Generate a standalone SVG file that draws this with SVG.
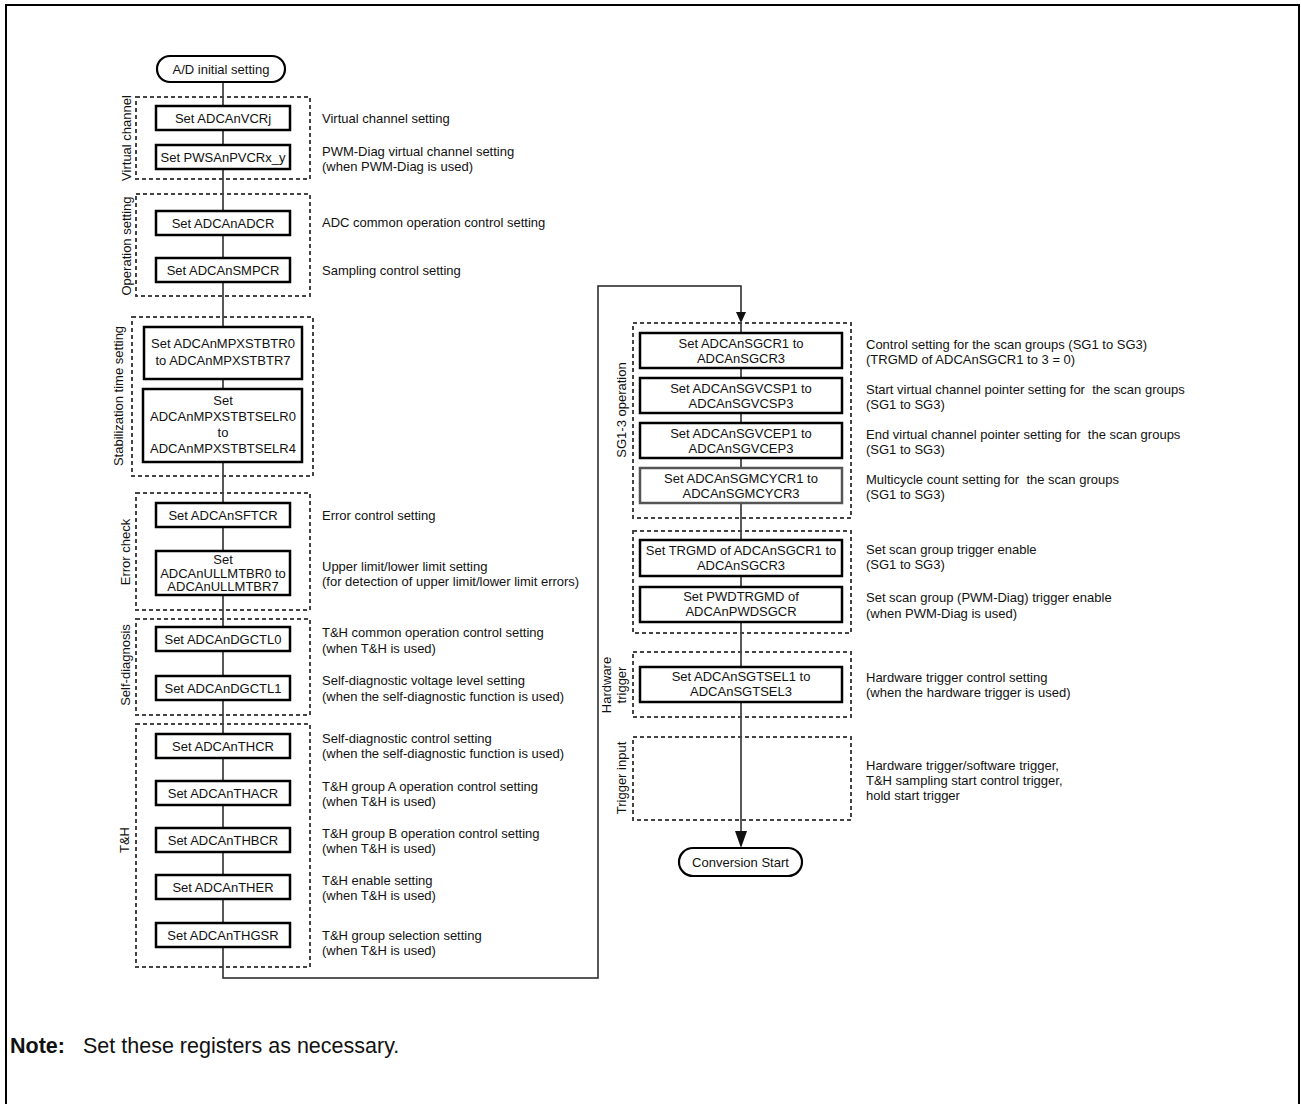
<svg xmlns="http://www.w3.org/2000/svg" width="1301" height="1104" viewBox="0 0 1301 1104">
<defs>
<style>
text{font-family:"Liberation Sans",Arial,sans-serif;font-size:13px;fill:#111}
.c{text-anchor:middle}
.lbl{text-anchor:middle;dominant-baseline:central}
.box{fill:#fff;stroke:#000;stroke-width:2.5}
.gbox{fill:#fff;stroke:#555;stroke-width:2.5}
.grp{fill:none;stroke:#444;stroke-width:2;stroke-dasharray:4 3}
.term{fill:#fff;stroke:#000;stroke-width:2.2}
.ln{fill:none;stroke:#222;stroke-width:1.5}
</style>
<marker id="ah1" markerUnits="userSpaceOnUse" markerWidth="10" markerHeight="12" refX="5" refY="11" orient="auto-start-reverse" viewBox="0 0 10 12">
<path d="M0,0 L10,0 L5,11 Z" fill="#111" transform="rotate(-90 5 6) translate(0,0)"/>
</marker>
</defs>
<path d="M6,1104 V5 H1299 V1104" fill="none" stroke="#000" stroke-width="2"/>

<g id="connectors">
<path class="ln" d="M223,82 V978 H598 V286 H741 V312"/>
<path d="M736,312 L746,312 L741,323 Z" fill="#111"/>
<path class="ln" d="M741,323 V832"/>
<path d="M735,831 L747,831 L741,848 Z" fill="#111"/>
</g>

<g id="groups">
<rect class="grp" x="136" y="97" width="174" height="82"/>
<rect class="grp" x="136" y="194" width="174" height="102"/>
<rect class="grp" x="132" y="317" width="181" height="159"/>
<rect class="grp" x="136" y="493" width="174" height="117"/>
<rect class="grp" x="136" y="619" width="174" height="96"/>
<rect class="grp" x="136" y="724" width="174" height="243"/>
<rect class="grp" x="633" y="323" width="218" height="195"/>
<rect class="grp" x="633" y="531" width="218" height="102"/>
<rect class="grp" x="633" y="652" width="218" height="65"/>
<rect class="grp" x="633" y="737" width="218" height="83"/>
<text class="lbl" transform="translate(126,138) rotate(-90)">Virtual channel</text>
<text class="lbl" transform="translate(126,246) rotate(-90)">Operation setting</text>
<text class="lbl" transform="translate(118,396) rotate(-90)">Stabilization time setting</text>
<text class="lbl" transform="translate(125,552) rotate(-90)">Error check</text>
<text class="lbl" transform="translate(125,665) rotate(-90)">Self-diagnosis</text>
<text class="lbl" transform="translate(124,840) rotate(-90)">T&amp;H</text>
<text class="lbl" transform="translate(621,410) rotate(-90)">SG1-3 operation</text>
<text class="lbl" transform="translate(606,685) rotate(-90)">Hardware</text>
<text class="lbl" transform="translate(621,685) rotate(-90)">trigger</text>
<text class="lbl" transform="translate(621,778) rotate(-90)">Trigger input</text>
</g>

<g id="n-start"><rect class="term" x="157" y="56" width="128" height="26" rx="13"/><text class="c" x="221" y="73.5">A/D initial setting</text></g>

<g id="n-vcr"><rect class="box" x="156" y="106" width="134" height="24"/><text class="c" x="223" y="122.5">Set ADCAnVCRj</text></g>
<g id="n-pvcr"><rect class="box" x="156" y="145" width="134" height="24"/><text class="c" x="223" y="161.5">Set PWSAnPVCRx_y</text></g>
<g id="n-adcr"><rect class="box" x="156" y="211" width="134" height="24"/><text class="c" x="223" y="227.5">Set ADCAnADCR</text></g>
<g id="n-smpcr"><rect class="box" x="156" y="258" width="134" height="24"/><text class="c" x="223" y="274.5">Set ADCAnSMPCR</text></g>
<g id="n-stbtr"><rect class="box" x="144" y="327" width="158" height="52"/><text class="c" x="223" y="347.5">Set ADCAnMPXSTBTR0</text><text class="c" x="223" y="364.5">to ADCAnMPXSTBTR7</text></g>
<g id="n-stbtsel"><rect class="box" x="143" y="389" width="159" height="73"/><text class="c" x="223" y="404.5">Set</text><text class="c" x="223" y="420.5">ADCAnMPXSTBTSELR0</text><text class="c" x="223" y="436.5">to</text><text class="c" x="223" y="452.5">ADCAnMPXSTBTSELR4</text></g>
<g id="n-sftcr"><rect class="box" x="156" y="503" width="134" height="24"/><text class="c" x="223" y="519.5">Set ADCAnSFTCR</text></g>
<g id="n-ullm"><rect class="box" x="156" y="551" width="134" height="44"/><text class="c" x="223" y="564">Set</text><text class="c" x="223" y="577.5">ADCAnULLMTBR0 to</text><text class="c" x="223" y="591">ADCAnULLMTBR7</text></g>
<g id="n-dg0"><rect class="box" x="156" y="627" width="134" height="24"/><text class="c" x="223" y="643.5">Set ADCAnDGCTL0</text></g>
<g id="n-dg1"><rect class="box" x="156" y="676" width="134" height="24"/><text class="c" x="223" y="692.5">Set ADCAnDGCTL1</text></g>
<g id="n-thcr"><rect class="box" x="156" y="734" width="134" height="24"/><text class="c" x="223" y="750.5">Set ADCAnTHCR</text></g>
<g id="n-thacr"><rect class="box" x="156" y="781" width="134" height="24"/><text class="c" x="223" y="797.5">Set ADCAnTHACR</text></g>
<g id="n-thbcr"><rect class="box" x="156" y="828" width="134" height="24"/><text class="c" x="223" y="844.5">Set ADCAnTHBCR</text></g>
<g id="n-ther"><rect class="box" x="156" y="875" width="134" height="24"/><text class="c" x="223" y="891.5">Set ADCAnTHER</text></g>
<g id="n-thgsr"><rect class="box" x="156" y="923" width="134" height="24"/><text class="c" x="223" y="939.5">Set ADCAnTHGSR</text></g>

<g id="n-sgcr"><rect class="box" x="640" y="333" width="202" height="35"/><text class="c" x="741" y="348">Set ADCAnSGCR1 to</text><text class="c" x="741" y="363">ADCAnSGCR3</text></g>
<g id="n-sgvcsp"><rect class="box" x="640" y="378" width="202" height="35"/><text class="c" x="741" y="393">Set ADCAnSGVCSP1 to</text><text class="c" x="741" y="408">ADCAnSGVCSP3</text></g>
<g id="n-sgvcep"><rect class="box" x="640" y="423" width="202" height="35"/><text class="c" x="741" y="438">Set ADCAnSGVCEP1 to</text><text class="c" x="741" y="453">ADCAnSGVCEP3</text></g>
<g id="n-sgmcy"><rect class="gbox" x="640" y="468" width="202" height="35"/><text class="c" x="741" y="483">Set ADCAnSGMCYCR1 to</text><text class="c" x="741" y="498">ADCAnSGMCYCR3</text></g>
<g id="n-trgmd"><rect class="box" x="640" y="540" width="202" height="36"/><text class="c" x="741" y="555">Set TRGMD of ADCAnSGCR1 to</text><text class="c" x="741" y="570">ADCAnSGCR3</text></g>
<g id="n-pwdtrgmd"><rect class="box" x="640" y="587" width="202" height="35"/><text class="c" x="741" y="601">Set PWDTRGMD of</text><text class="c" x="741" y="616">ADCAnPWDSGCR</text></g>
<g id="n-sgtsel"><rect class="box" x="640" y="667" width="202" height="35"/><text class="c" x="741" y="681">Set ADCAnSGTSEL1 to</text><text class="c" x="741" y="696">ADCAnSGTSEL3</text></g>
<g id="n-end"><rect class="term" x="679" y="848" width="123" height="28" rx="14"/><text class="c" x="740.5" y="866.5">Conversion Start</text></g>

<g id="descriptions">
<text x="322" y="122.5">Virtual channel setting</text>
<text x="322" y="155.5">PWM-Diag virtual channel setting</text>
<text x="322" y="170.5">(when PWM-Diag is used)</text>
<text x="322" y="226.5">ADC common operation control setting</text>
<text x="322" y="274.5">Sampling control setting</text>
<text x="322" y="519.5">Error control setting</text>
<text x="322" y="570.5">Upper limit/lower limit setting</text>
<text x="322" y="585.5">(for detection of upper limit/lower limit errors)</text>
<text x="322" y="636.5">T&amp;H common operation control setting</text>
<text x="322" y="652.5">(when T&amp;H is used)</text>
<text x="322" y="684.5">Self-diagnostic voltage level setting</text>
<text x="322" y="700.5">(when the self-diagnostic function is used)</text>
<text x="322" y="742.5">Self-diagnostic control setting</text>
<text x="322" y="757.5">(when the self-diagnostic function is used)</text>
<text x="322" y="790.5">T&amp;H group A operation control setting</text>
<text x="322" y="805.5">(when T&amp;H is used)</text>
<text x="322" y="837.5">T&amp;H group B operation control setting</text>
<text x="322" y="852.5">(when T&amp;H is used)</text>
<text x="322" y="884.5">T&amp;H enable setting</text>
<text x="322" y="899.5">(when T&amp;H is used)</text>
<text x="322" y="939.5">T&amp;H group selection setting</text>
<text x="322" y="954.5">(when T&amp;H is used)</text>
<text x="866" y="348.5">Control setting for the scan groups (SG1 to SG3)</text>
<text x="866" y="363.5">(TRGMD of ADCAnSGCR1 to 3 = 0)</text>
<text x="866" y="393.5" xml:space="preserve">Start virtual channel pointer setting for  the scan groups</text>
<text x="866" y="408.5">(SG1 to SG3)</text>
<text x="866" y="438.5" xml:space="preserve">End virtual channel pointer setting for  the scan groups</text>
<text x="866" y="453.5">(SG1 to SG3)</text>
<text x="866" y="483.5" xml:space="preserve">Multicycle count setting for  the scan groups</text>
<text x="866" y="498.5">(SG1 to SG3)</text>
<text x="866" y="553.5">Set scan group trigger enable</text>
<text x="866" y="568.5">(SG1 to SG3)</text>
<text x="866" y="601.5">Set scan group (PWM-Diag) trigger enable</text>
<text x="866" y="617.5">(when PWM-Diag is used)</text>
<text x="866" y="681.5">Hardware trigger control setting</text>
<text x="866" y="696.5">(when the hardware trigger is used)</text>
<text x="866" y="769.5">Hardware trigger/software trigger,</text>
<text x="866" y="784.5">T&amp;H sampling start control trigger,</text>
<text x="866" y="799.5">hold start trigger</text>
</g>

<g id="note">
<text x="10" y="1053" style="font-size:21.5px;font-weight:bold">Note:</text>
<text x="83" y="1053" style="font-size:21.5px">Set these registers as necessary.</text>
</g>
</svg>
